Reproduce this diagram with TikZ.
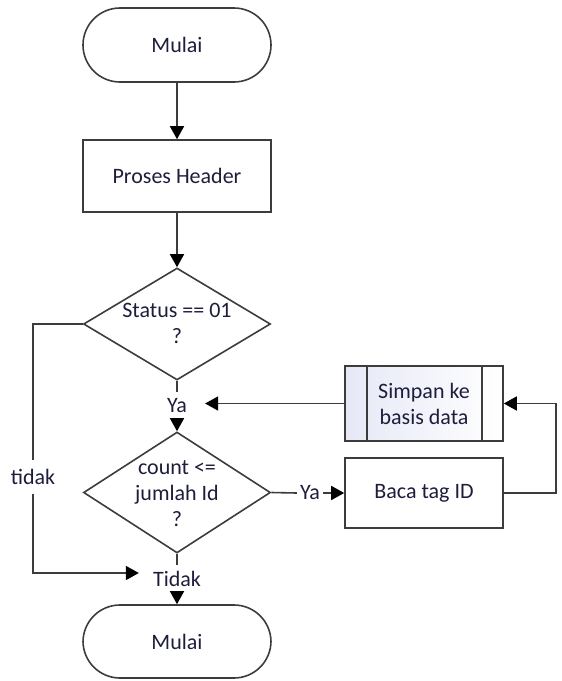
\documentclass[tikz,border=0pt]{standalone}
\usepackage{fontspec}
\setmainfont{Carlito}
\usetikzlibrary{shapes.geometric,arrows.meta}
\definecolor{linegray}{HTML}{3C3C3C}
\definecolor{inkblue}{HTML}{1E1E3C}
\definecolor{lav}{HTML}{E6E8F6}
\begin{document}
\begin{tikzpicture}[x=1pt,y=-1pt,
  every node/.style={text=inkblue,font=\fontsize{22}{26}\selectfont},
  line/.style={draw=linegray,line width=1.6pt},
  arr/.style={line,-{Triangle[length=13pt,width=14pt,color=black]}},
  term/.style={line,fill=white,rectangle,rounded corners=37pt,minimum width=188pt,minimum height=74pt},
  proc/.style={line,fill=white,rectangle,minimum width=188pt,minimum height=72pt},
  decision/.style={line,fill=white,diamond,inner sep=0pt,minimum width=187pt},
  predef/.style={line,rectangle,left color=lav,right color=white,minimum width=158pt,minimum height=75pt,align=center},
  txt/.style={align=center,inner sep=0pt}
]
\useasboundingbox (0,0) rectangle (562,681);

% main column
\node[term] (start) at (177,45) {Mulai};
\node[proc] (header) at (177,176) {Proses Header};
\node[decision,minimum height=112pt] (status) at (177,324) {};
\node[txt] (statusq) at (177,323) {Status == 01\\?};
\node[txt,inner xsep=18pt,inner ysep=7pt] (ya1) at (177,406) {Ya};
\node[decision,minimum height=121pt] (count) at (177,492.5) {};
\node[txt] (countq) at (177,494) {count <=\\jumlah Id\\?};
\node[txt,inner xsep=14pt,inner ysep=6pt] (tidak2) at (177,579) {Tidak};
\node[term,minimum height=73pt] (end) at (177,641.5) {Mulai};

% loop on the right
\node[txt,inner xsep=3pt,inner ysep=4pt] (ya2) at (310,493) {Ya};
\node[proc,minimum width=158pt,minimum height=70pt] (baca) at (424,493) {Baca tag ID};
\node[predef] (simpan) at (424,403.5) {Simpan ke\\basis data};
\draw[line] ([xshift=23pt]simpan.north west) -- ([xshift=23pt]simpan.south west);
\draw[line] ([xshift=-22pt]simpan.north east) -- ([xshift=-22pt]simpan.south east);

% label on the left branch
\node[txt,inner xsep=2pt,inner ysep=9pt] (tidak1) at (33,477) {tidak};

% connectors
\draw[arr] (start) -- (header);
\draw[arr] (header) -- (status);
\draw[line] (status.south) -- (ya1.north);
\draw[arr] (ya1.south) -- (count.north);
\draw[line] (count.east) -- (ya2.west);
\draw[arr] (ya2.east) -- (baca.west);
\draw[arr] (baca.east) -- ++(52,0) |- (simpan.east);
\draw[arr] (simpan.west) -- (simpan.west -| ya1.east);
\draw[line] (status.west) -- (status.west -| tidak1) -- (tidak1.north);
\draw[arr] (tidak1.south) |- ([yshift=6pt]tidak2.west);
\draw[line] (count.south) -- (tidak2.north);
\draw[arr] (tidak2.south) -- (end.north);
\end{tikzpicture}
\end{document}
